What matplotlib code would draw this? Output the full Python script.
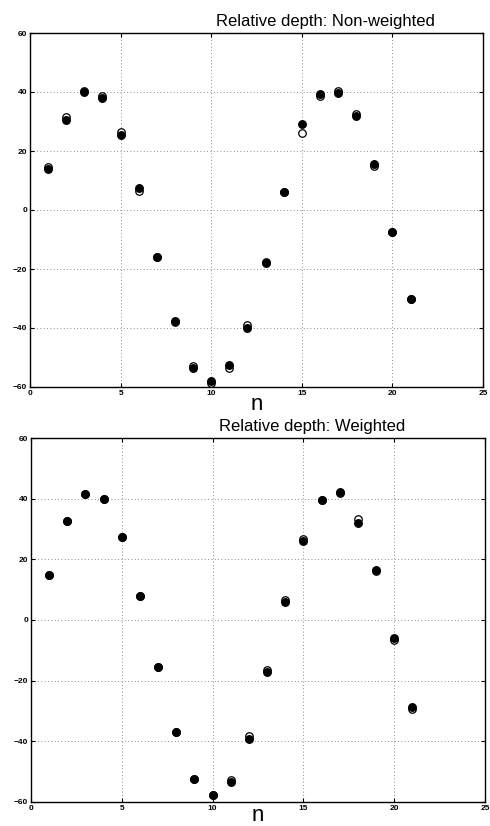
import matplotlib
matplotlib.use("Agg")
import matplotlib.pyplot as plt

n = list(range(1, 22))

# Non-weighted
nw_filled = [14, 30.5, 40, 38, 25.3, 7.5, -16, -37.5, -53.5, -58, -52.5, -40, -18, 6, 29, 39.3, 39.5, 32, 15.5, -7.5, -30]
nw_open = [14.5, 31.5, 40.5, 38.8, 26.5, 6.5, -16, -38, -53, -58.5, -53.5, -39, -17.5, 6, 26, 38.5, 40.5, 32.5, 15, -7.5, -30]

# Weighted
w_filled = [15, 32.5, 41.5, 39.8, 27.5, 7.8, -15.5, -37, -52.3, -57.8, -53.5, -39.3, -17.3, 6, 26, 39.5, 42.3, 32, 16.5, -6, -28.8]
w_open = [15, 32.5, 41.5, 39.8, 27.5, 7.8, -15.5, -37, -52.3, -57.8, -52.8, -38.3, -16.5, 6.5, 26.8, 39.5, 41.8, 33.2, 16, -6.5, -29.3]

titles = ["Relative depth: Non-weighted", "Relative depth: Weighted"]
xticks = [0, 5, 10, 15, 20, 25]
yticks = [-60, -40, -20, 0, 20, 40, 60]

plt.rcParams['font.family'] = ['Liberation Sans', 'DejaVu Sans']

fig = plt.figure(figsize=(4.9, 8.26), dpi=100)
positions = [
    [30/490, 1-387/826, 453/490, (387-33)/826],
    [31/490, 1-802/826, 454/490, (802-438)/826],
]
title_x = [0.653, 0.62]
label_pads = [-2, -5]
data = [(nw_open, nw_filled), (w_open, w_filled)]

for pos, (op, fi), title, tx, lp in zip(positions, data, titles, title_x, label_pads):
    ax = fig.add_axes(pos)
    ax.plot(n, op, linestyle='none', marker='o', markersize=5.4,
            markerfacecolor='white', markeredgecolor='black', markeredgewidth=0.9, zorder=3)
    ax.plot(n, fi, linestyle='none', marker='o', markersize=5.4,
            markerfacecolor='black', markeredgecolor='black', zorder=4)
    ax.set_xlim(0, 25)
    ax.set_ylim(-60, 60)
    ax.set_xticks(xticks)
    ax.set_yticks(yticks)
    ax.grid(True, linestyle=(0, (1, 3)), color='#666666', linewidth=0.6)
    ax.tick_params(direction='in', length=3, top=True, right=True, labelsize=6, pad=2)
    for lab in ax.get_xticklabels() + ax.get_yticklabels():
        lab.set_fontweight('bold')
    for sp in ax.spines.values():
        sp.set_linewidth(1.0)
    ax.set_xlabel('n', fontsize=16, labelpad=lp)
    ax.text(tx, 1.012, title, transform=ax.transAxes, ha='center', va='bottom', fontsize=12)

fig.savefig('out.png', dpi=100)
